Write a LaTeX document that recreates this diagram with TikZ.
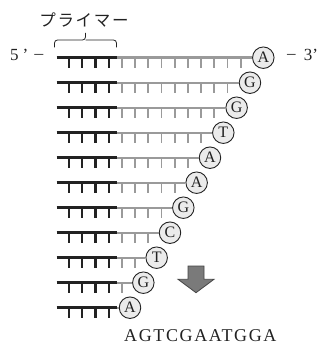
\documentclass[tikz,border=0pt]{standalone}
\usepackage{fontspec}
\setmainfont{Liberation Serif}
\newfontfamily\jpfont{Noto Sans CJK JP}
\definecolor{blk}{HTML}{222222}
\definecolor{gry}{HTML}{9A9A9A}
\definecolor{cfill}{HTML}{EBEBEB}
\definecolor{arrfill}{HTML}{7A7A7A}
\definecolor{arrline}{HTML}{444444}
\tikzset{
  blackline/.style={draw=blk, line width=3pt},
  grayline/.style={draw=gry, line width=2.4pt},
  blacktick/.style={draw=blk, line width=2.2pt},
  graytick/.style={draw=gry, line width=1.8pt},
  base/.style={circle, draw=blk, fill=cfill, line width=0.9pt, minimum size=21.5pt, inner sep=0pt,
    font=\fontsize{16}{16}\selectfont, text=blk},
  endlabel/.style={font=\fontsize{17}{17}\selectfont, text=blk, inner sep=0pt},
  bracketline/.style={draw=blk, line width=0.8pt, rounded corners=3pt},
  bigarrow/.style={fill=arrfill, draw=arrline, line width=0.8pt, line join=miter}
}
\begin{document}
\begin{tikzpicture}[x=1pt,y=-1pt]
\useasboundingbox (0,0) rectangle (323,345);
\foreach \L [count=\n from 0] in {A,G,G,T,A,A,G,C,T,G,A} {
  \pgfmathsetmacro\yy{57.7+25*\n}
  \pgfmathsetmacro\cx{263.3-13.33*\n}
  \pgfmathtruncatemacro\last{13-\n}
  \coordinate (s\n) at (56.7,\yy);
  \coordinate (m\n) at (116.7,\yy);
  \node[base] (c\n) at (\cx,\yy) {\L};
  \ifnum\last>3
    \foreach \k in {4,...,\last} {\draw[graytick] (69+13.2*\k,\yy) -- ++(0,10.5);}
  \fi
  \draw[grayline] (m\n) -- (c\n.west);
  \foreach \k in {0,...,3} {\draw[blacktick] (69+13.2*\k,\yy) -- ++(0,10.5);}
  \draw[blackline] (s\n) -- (m\n);
}
\node[endlabel, anchor=west] (five) at (10,55) {5\hspace{4pt}’\hspace{5pt}\scalebox{1.15}[1]{−}};
\node[endlabel, anchor=west] (three) at (286,55) {\scalebox{1.1}[1]{−}\hspace{7pt}3’};
\draw[bracketline] (54.5,47.5) |- (85.5,40) -- (85.5,33);
\draw[bracketline] (85.5,40) -| (116.5,47.5);
\node[inner sep=0pt, text=blk] (primer) at (84,20) {\jpfont\fontsize{16.5}{16.5}\selectfont\addfontfeature{LetterSpace=10}プライマー};
\draw[bigarrow] (188,266) -- (204,266) -- (204,279.3) -- (214,279.3) -- (196,292.7) -- (178,279.3) -- (188,279.3) -- cycle;
\node[anchor=base west, inner sep=0pt, text=blk] (seq) at (124,341.7) {\fontsize{18}{18}\selectfont\addfontfeature{LetterSpace=9}AGTCGAATGGA};
\end{tikzpicture}
\end{document}
